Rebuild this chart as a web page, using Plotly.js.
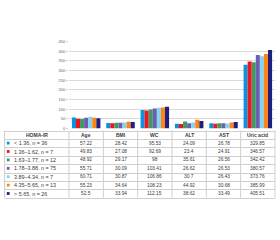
<!DOCTYPE html>
<html>
<head>
<meta charset="utf-8">
<script src="https://cdn.plot.ly/plotly-3.0.1.min.js"></script>
<style>html,body{margin:0;padding:0;background:#fff;}#chart{width:280px;height:240px;}</style>
</head>
<body>
<div id="chart"></div>
<script>
const categories = ["Age", "BMI", "WC", "ALT", "AST", "Uric acid"];
const headerLabel = "HOMA-IR";
const groupLabels = ["< 1.36, n = 36", "1.36–1.62, n = 7", "1.63–1.77, n = 12", "1.78–3.88, n = 75", "3.89–4.34, n = 7", "4.35–5.65, n = 13", "> 5.65, n = 26"];
const age = [57.22, 49.83, 48.92, 55.71, 60.71, 55.23, 52.5];
const bmi = [28.42, 27.08, 29.17, 30.09, 30.87, 34.64, 33.94];
const wc = [95.53, 92.69, 98, 103.41, 106.86, 108.23, 112.15];
const alt = [24.09, 23.4, 35.61, 26.62, 30.7, 44.92, 38.62];
const ast = [26.78, 24.91, 26.56, 26.53, 26.43, 30.68, 33.49];
const uric = [329.85, 346.57, 342.42, 380.57, 373.76, 385.99, 405.51];
const colors = ["#0a93de", "#f0141e", "#3f9b62", "#6e5fae", "#86d3f2", "#ff8412", "#1f1f82"];

const measures = [age, bmi, wc, alt, ast, uric];
const FONT = "Liberation Sans, Arial, sans-serif";
const W = 280, H = 240;
const px = x => x / W;
const py = y => 1 - y / H;

// layout geometry (pixels)
const plotLeft = 69, plotRight = 275, plotTop = 41.5, plotBottom = 128.5;
const tableLeft = 4.5, firstColRight = 69, tableTop = 130.5, rowH = 8.4;

const traces = groupLabels.map((g, i) => ({
  type: "bar",
  name: g,
  x: categories,
  y: measures.map(m => m[i]),
  marker: {color: colors[i], line: {width: 0}},
  showlegend: false,
  hoverinfo: "skip"
}));

const colW = (plotRight - firstColRight) / categories.length;
const colEdges = [tableLeft, firstColRight].concat(categories.map((c, j) => firstColRight + colW * (j + 1)));
const nRows = groupLabels.length + 1;
const tableBottom = tableTop + rowH * nRows;

const shapes = [];
const annotations = [];
const lineStyle = {color: "#cfcfcf", width: 1};
for (let r = 0; r <= nRows; r++) {
  const y = Math.round(tableTop + rowH * r) + 0.5;
  shapes.push({type: "line", xref: "paper", yref: "paper", x0: px(tableLeft), x1: px(plotRight), y0: py(y), y1: py(y), line: lineStyle});
}
colEdges.forEach(x => {
  shapes.push({type: "line", xref: "paper", yref: "paper", x0: px(x), x1: px(x), y0: py(tableTop), y1: py(tableBottom), line: lineStyle});
});

const numFont = {family: FONT, size: 4.8, color: "#3a3a3a"};
const lblFont = {family: FONT, size: 5.4, color: "#3a3a3a"};
const hdrFont = {family: FONT, size: 5, color: "#3a3a3a"};
const rowCenter = r => tableTop + rowH * (r + 0.5);
// header
annotations.push({xref: "paper", yref: "paper", x: px((tableLeft + firstColRight) / 2), y: py(rowCenter(0)), text: "<b>" + headerLabel + "</b>",
  showarrow: false, xanchor: "center", yanchor: "middle", font: hdrFont});
categories.forEach((c, j) => {
  annotations.push({xref: "paper", yref: "paper", x: px(firstColRight + colW * (j + 0.5)), y: py(rowCenter(0)), text: "<b>" + c + "</b>",
    showarrow: false, xanchor: "center", yanchor: "middle", font: hdrFont});
});
// rows
groupLabels.forEach((g, i) => {
  const yc = rowCenter(i + 1);
  shapes.push({type: "rect", xref: "paper", yref: "paper", x0: px(6.8), x1: px(9.6), y0: py(yc - 1.4), y1: py(yc + 1.4),
    fillcolor: colors[i], line: {width: 0}});
  annotations.push({xref: "paper", yref: "paper", x: px(12), y: py(yc), text: g, showarrow: false, xanchor: "left", yanchor: "middle", font: lblFont});
  measures.forEach((m, j) => {
    annotations.push({xref: "paper", yref: "paper", x: px(firstColRight + colW * (j + 0.5)), y: py(yc), text: String(m[i]),
      showarrow: false, xanchor: "center", yanchor: "middle", font: numFont});
  });
});

const layout = {
  width: W, height: H,
  margin: {l: 0, r: 0, t: 0, b: 0},
  paper_bgcolor: "#ffffff", plot_bgcolor: "#ffffff",
  barmode: "group",
  bargap: 0.17, bargroupgap: 0,
  showlegend: false,
  xaxis: {domain: [px(plotLeft), px(plotRight)], showticklabels: false, showgrid: false, zeroline: false, showline: false, ticks: ""},
  yaxis: {domain: [py(plotBottom), py(plotTop)], range: [0, 450], dtick: 50, showgrid: true, gridcolor: "#d9d9d9", gridwidth: 1,
    zeroline: false, showline: false, ticks: "outside", ticklen: 2, tickcolor: "#d0d0d0",
    tickfont: {family: FONT, size: 4, color: "#595959"}},
  shapes: shapes,
  annotations: annotations
};

Plotly.newPlot("chart", traces, layout, {staticPlot: true, displayModeBar: false});
</script>
</body>
</html>
